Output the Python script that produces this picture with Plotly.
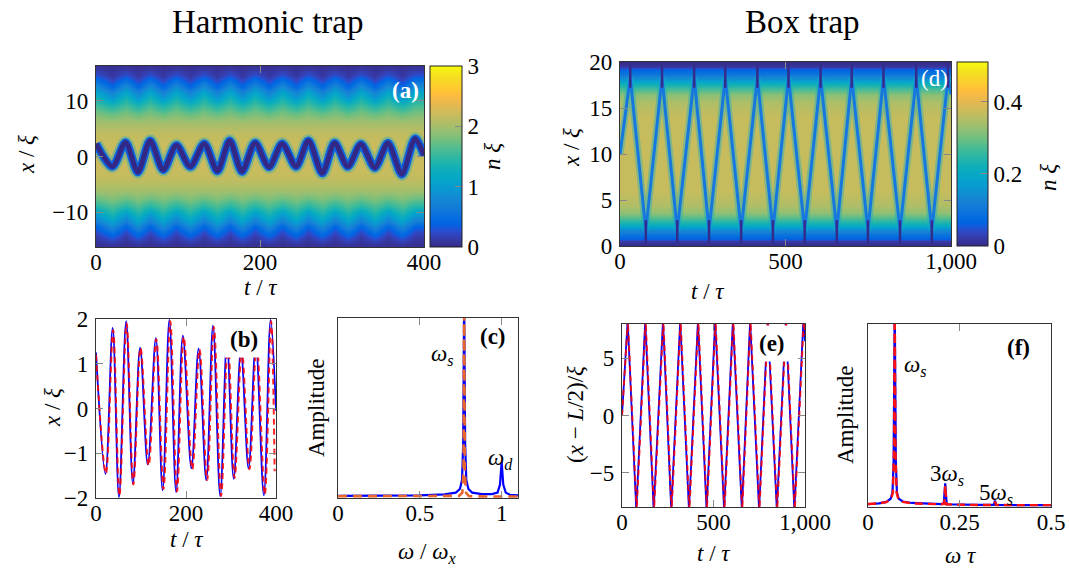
import plotly.graph_objects as go

W, H = 1069, 568
FONT = "Liberation Serif"

# ---------------- data ----------------
# (a) harmonic trap: density profile across x (read from colours); the cloud edge
# bulges outward on the side where the soliton sits at its turning point
heat_a_x = [-16.2, -15.5, -14.5, -13.5, -12.5, -11.5, -10.5, -9, -7.5, -6, -4, -2, 0,
            2, 4, 6, 7.5, 9, 10.5, 11.5, 12.5, 13.5, 14.5, 15.5, 16.2]
heat_a_n_top = [0.04, 0.06, 0.1, 0.22, 0.42, 0.7, 0.95, 1.4, 1.75, 2.0, 2.15, 2.2, 2.2,
                2.2, 2.15, 2.0, 1.85, 1.6, 1.35, 1.1, 0.85, 0.55, 0.3, 0.12, 0.06]
heat_a_n_bot = [0.06, 0.12, 0.3, 0.55, 0.85, 1.1, 1.35, 1.6, 1.85, 2.0, 2.15, 2.2, 2.2,
                2.2, 2.15, 2.0, 1.75, 1.4, 0.95, 0.7, 0.42, 0.22, 0.1, 0.06, 0.04]
# (a) dark-soliton trajectory seen in the density map
sol_a_t = [0, 20, 36, 51, 66, 82, 98, 115, 132, 148, 163, 178, 194, 211, 227, 244,
           259, 276, 291, 307, 323, 340, 356, 373, 389, 400]
sol_a_x = [2.3, -1.8, 2.5, -2.8, 2.8, -2.4, 2.0, -1.8, 2.3, -2.6, 2.8, -2.7, 2.4,
           -1.9, 2.3, -1.8, 2.8, -3.0, 2.4, -1.8, 2.2, -2.0, 2.4, -3.2, 3.2, 0.2]

# (d) box trap: background density profile across x
heat_d_x = [0, 0.5, 0.8, 1.3, 1.8, 2.3, 2.9, 3.6, 4.5, 6, 10, 14, 15.5, 16.4, 17.1,
            17.7, 18.2, 18.7, 19.2, 19.5, 20]
heat_d_n = [0.0, 0.02, 0.06, 0.1, 0.15, 0.21, 0.27, 0.32, 0.35, 0.37, 0.37, 0.37,
            0.35, 0.32, 0.27, 0.21, 0.15, 0.1, 0.06, 0.02, 0.0]
heat_d_t = [0, 1000]
L_box = 20

# (b) soliton position x/xi vs t/tau (turning points)
b_t_blue = [0, 21, 37, 51, 67, 82, 98, 115, 133, 148, 163, 178, 193, 212, 228, 245,
            260, 276, 291, 306, 322, 339, 355, 373, 388, 400]
b_x_blue = [1.25, -1.46, 1.8, -1.98, 1.95, -1.68, 1.36, -1.25, 1.57, -1.83, 1.98, -1.87,
            1.63, -1.34, 1.34, -1.6, 1.85, -1.96, 1.5, -1.57, 1.3, -1.34, 1.45, -1.94, 1.98, -0.05]
b_t_red = [0, 22, 38, 52, 68, 83, 99, 117, 134, 150, 165, 180, 195, 214, 230, 247,
           262, 278, 293, 308, 324, 341, 357, 375, 389, 397]
b_x_red = [1.2, -1.45, 1.75, -1.95, 1.9, -1.7, 1.35, -1.27, 1.55, -1.8, 1.95, -1.85,
           1.6, -1.36, 1.32, -1.6, 1.82, -1.95, 1.5, -1.55, 1.3, -1.36, 1.45, -1.92, 1.95, -1.4]

# (c) spectrum, harmonic trap
c_w_blue = [0, 0.3, 0.5, 0.65, 0.72, 0.745, 0.758, 0.765, 0.771, 0.777, 0.784, 0.797,
            0.82, 0.88, 0.94, 0.975, 0.99, 1.0, 1.01, 1.025, 1.05, 1.1]
c_a_blue = [0.012, 0.013, 0.015, 0.02, 0.03, 0.05, 0.1, 0.3, 1.1, 0.3, 0.1, 0.05,
            0.03, 0.022, 0.022, 0.03, 0.075, 0.2, 0.075, 0.03, 0.018, 0.015]
c_w_red = [0, 0.3, 0.6, 0.74, 0.76, 0.767, 0.771, 0.775, 0.782, 0.8, 0.9, 1.0, 1.1]
c_a_red = [0.01, 0.01, 0.01, 0.012, 0.03, 0.15, 1.1, 0.15, 0.03, 0.01, 0.008, 0.008, 0.008]

# (e) soliton position (x - L/2)/xi vs t/tau in the box (turning points)
e_t_blue = [0, 31, 78, 127, 173, 224, 269, 318, 366, 415, 462, 509, 558, 606, 655,
            700, 749, 796, 846, 895, 942, 991, 1000]
e_x_blue = [0, 8.3, -8.3, 8.3, -8.3, 8.3, -8.3, 8.3, -8.3, 8.3, -8.3, 8.3, -8.3,
            8.3, -8.3, 8.3, -8.3, 8.3, -8.3, 8.3, -8.3, 8.3, 6.5]
e_t_red = [0, 32, 80, 129, 175, 226, 271, 320, 368, 417, 464, 511, 560, 608, 657,
           702, 751, 798, 848, 897, 944, 993, 1000]
e_x_red = [0, 8.3, -8.3, 8.3, -8.3, 8.3, -8.3, 8.3, -8.3, 8.3, -8.3, 8.3, -8.3,
           8.3, -8.3, 8.3, -8.3, 8.3, -8.3, 8.3, -8.3, 8.3, 7.0]

# (f) spectrum, box trap
f_w_blue = [0, 0.03, 0.05, 0.062, 0.067, 0.070, 0.073, 0.076, 0.079, 0.084, 0.095,
            0.12, 0.2, 0.207, 0.211, 0.215, 0.3, 0.344, 0.347, 0.35, 0.42, 0.5]
f_a_blue = [0.015, 0.02, 0.028, 0.045, 0.08, 0.25, 1.1, 0.25, 0.08, 0.045, 0.03,
            0.022, 0.016, 0.02, 0.13, 0.015, 0.012, 0.012, 0.035, 0.012, 0.01, 0.01]
f_w_red = [0, 0.03, 0.05, 0.063, 0.068, 0.071, 0.073, 0.075, 0.078, 0.083, 0.095,
           0.12, 0.2, 0.208, 0.211, 0.214, 0.3, 0.344, 0.347, 0.35, 0.42, 0.5]
f_a_red = [0.016, 0.02, 0.027, 0.042, 0.08, 0.3, 1.1, 0.3, 0.08, 0.042, 0.028,
           0.02, 0.015, 0.018, 0.12, 0.014, 0.011, 0.011, 0.03, 0.011, 0.01, 0.01]

# tick labels
a_xticks, a_xtext = [0, 200, 400], ["0", "200", "400"]
a_yticks, a_ytext = [-10, 0, 10], ["−10", "0", "10"]
a_cticks, a_ctext = [0, 1, 2, 3], ["0", "1", "2", "3"]
d_xticks, d_xtext = [0, 500, 1000], ["0", "500", "1,000"]
d_yticks, d_ytext = [0, 5, 10, 15, 20], ["0", "5", "10", "15", "20"]
d_cticks, d_ctext = [0, 0.2, 0.4], ["0", "0.2", "0.4"]
b_xticks, b_xtext = [0, 200, 400], ["0", "200", "400"]
b_yticks, b_ytext = [-2, -1, 0, 1, 2], ["−2", "−1", "0", "1", "2"]
c_xticks, c_xtext = [0, 0.5, 1], ["0", "0.5", "1"]
e_xticks, e_xtext = [0, 500, 1000], ["0", "500", "1,000"]
e_yticks, e_ytext = [-5, 0, 5], ["−5", "0", "5"]
f_xticks, f_xtext = [0, 0.25, 0.5], ["0", "0.25", "0.5"]

# ---------------- style ----------------
PARULA = [
    (0.2081, 0.1663, 0.5292), (0.2116, 0.1898, 0.5777), (0.2123, 0.2138, 0.6270),
    (0.2081, 0.2386, 0.6771), (0.1959, 0.2645, 0.7279), (0.1707, 0.2919, 0.7792),
    (0.1253, 0.3242, 0.8303), (0.0591, 0.3598, 0.8683), (0.0117, 0.3875, 0.8820),
    (0.0060, 0.4086, 0.8828), (0.0165, 0.4266, 0.8786), (0.0329, 0.4430, 0.8720),
    (0.0498, 0.4586, 0.8641), (0.0629, 0.4737, 0.8554), (0.0723, 0.4887, 0.8467),
    (0.0779, 0.5040, 0.8384), (0.0793, 0.5200, 0.8312), (0.0749, 0.5375, 0.8263),
    (0.0641, 0.5570, 0.8240), (0.0488, 0.5772, 0.8228), (0.0343, 0.5966, 0.8199),
    (0.0265, 0.6137, 0.8135), (0.0239, 0.6287, 0.8038), (0.0231, 0.6418, 0.7913),
    (0.0228, 0.6535, 0.7768), (0.0267, 0.6642, 0.7607), (0.0384, 0.6743, 0.7436),
    (0.0590, 0.6838, 0.7254), (0.0843, 0.6928, 0.7062), (0.1133, 0.7015, 0.6859),
    (0.1453, 0.7098, 0.6646), (0.1801, 0.7177, 0.6424), (0.2178, 0.7250, 0.6193),
    (0.2586, 0.7317, 0.5954), (0.3022, 0.7376, 0.5712), (0.3482, 0.7424, 0.5473),
    (0.3953, 0.7459, 0.5244), (0.4420, 0.7481, 0.5033), (0.4871, 0.7491, 0.4840),
    (0.5300, 0.7491, 0.4661), (0.5709, 0.7485, 0.4494), (0.6099, 0.7473, 0.4337),
    (0.6473, 0.7456, 0.4188), (0.6834, 0.7435, 0.4044), (0.7184, 0.7411, 0.3905),
    (0.7525, 0.7384, 0.3768), (0.7858, 0.7356, 0.3633), (0.8185, 0.7327, 0.3498),
    (0.8507, 0.7299, 0.3360), (0.8824, 0.7274, 0.3217), (0.9139, 0.7258, 0.3063),
    (0.9450, 0.7261, 0.2886), (0.9739, 0.7314, 0.2666), (0.9938, 0.7455, 0.2403),
    (0.9990, 0.7653, 0.2164), (0.9955, 0.7861, 0.1967), (0.9880, 0.8066, 0.1794),
    (0.9789, 0.8271, 0.1633), (0.9697, 0.8481, 0.1475), (0.9626, 0.8705, 0.1309),
    (0.9589, 0.8949, 0.1132), (0.9598, 0.9218, 0.0948), (0.9661, 0.9514, 0.0755),
    (0.9763, 0.9831, 0.0538)]
colorscale = [[i / (len(PARULA) - 1),
               "rgb(%d,%d,%d)" % tuple(int(round(255 * c)) for c in rgb)]
              for i, rgb in enumerate(PARULA)]


def px_x(p):
    return p / W


def px_y(p):
    return 1 - p / H


fig = go.Figure()

# ---- (a) heatmap: one column per soliton turning point ----
z_a = [[(top if xs > 0 else bot) for xs in sol_a_x]
       for top, bot in zip(heat_a_n_top, heat_a_n_bot)]
fig.add_trace(go.Heatmap(
    x=sol_a_t, y=heat_a_x, z=z_a,
    zmin=0, zmax=3, zsmooth="best", colorscale=colorscale,
    xaxis="x", yaxis="y", hoverinfo="skip",
    colorbar=dict(x=px_x(430), xanchor="left", y=px_y(66), yanchor="top",
                  len=(247 - 66) / H, lenmode="fraction", thickness=32,
                  thicknessmode="pixels", xpad=0, ypad=0, outlinewidth=1,
                  outlinecolor="#222", ticks="inside", ticklen=7, tickcolor="#888",
                  tickvals=a_cticks, ticktext=a_ctext,
                  tickfont=dict(family=FONT, size=23, color="black"))))
for wdt, col in [(13, "rgba(20,165,200,0.35)"), (8.5, "rgb(14,100,222)"), (5, "rgb(52,40,135)")]:
    fig.add_trace(go.Scatter(x=sol_a_t, y=sol_a_x, mode="lines",
                             line=dict(color=col, width=wdt, shape="spline", smoothing=0.8),
                             xaxis="x", yaxis="y", hoverinfo="skip", showlegend=False))

# ---- (d) heatmap ----
fig.add_trace(go.Heatmap(
    x=heat_d_t, y=heat_d_x, z=[[v, v] for v in heat_d_n],
    zmin=0, zmax=0.51, zsmooth="best", colorscale=colorscale,
    xaxis="x2", yaxis="y2", hoverinfo="skip",
    colorbar=dict(x=px_x(957), xanchor="left", y=px_y(62), yanchor="top",
                  len=(246 - 62) / H, lenmode="fraction", thickness=31,
                  thicknessmode="pixels", xpad=0, ypad=0, outlinewidth=1,
                  outlinecolor="#222", ticks="inside", ticklen=7, tickcolor="#888",
                  tickvals=d_cticks, ticktext=d_ctext,
                  tickfont=dict(family=FONT, size=23, color="black"))))
d_y = [L_box / 2 + v for v in e_x_blue]
for wdt, col in [(7, "rgba(20,170,200,0.4)"), (3, "rgb(22,120,222)")]:
    fig.add_trace(go.Scatter(x=e_t_blue, y=d_y, mode="lines",
                             line=dict(color=col, width=wdt),
                             xaxis="x2", yaxis="y2", hoverinfo="skip", showlegend=False))
# soliton dip continuing into the wall healing layers at each reflection
wall_t, wall_y = [], []
for t, v in zip(e_t_blue[1:-1], e_x_blue[1:-1]):
    if v < 0:
        wall_t += [t, t, None]
        wall_y += [0.3, 2.8, None]
    else:
        wall_t += [t, t, None]
        wall_y += [17.2, 19.7, None]
fig.add_trace(go.Scatter(x=wall_t, y=wall_y, mode="lines",
                         line=dict(color="rgb(52,44,140)", width=2.5),
                         xaxis="x2", yaxis="y2", hoverinfo="skip", showlegend=False))

# ---- (b) ----
fig.add_trace(go.Scatter(x=b_t_blue, y=b_x_blue, mode="lines",
                         line=dict(color="#0000ff", width=1.8, shape="spline"),
                         xaxis="x3", yaxis="y3", showlegend=False))
fig.add_trace(go.Scatter(x=b_t_red, y=b_x_red, mode="lines",
                         line=dict(color="rgba(255,0,0,0.85)", width=2, dash="6px,4px",
                                   shape="spline"),
                         xaxis="x3", yaxis="y3", showlegend=False))

# ---- (c) ----
fig.add_trace(go.Scatter(x=c_w_blue, y=c_a_blue, mode="lines",
                         line=dict(color="#0000ff", width=2.2),
                         xaxis="x4", yaxis="y4", showlegend=False))
fig.add_trace(go.Scatter(x=c_w_red, y=c_a_red, mode="lines",
                         line=dict(color="#e8662e", width=2.6, dash="9px,6px"),
                         xaxis="x4", yaxis="y4", showlegend=False))

# ---- (e) ----
fig.add_trace(go.Scatter(x=e_t_blue, y=e_x_blue, mode="lines",
                         line=dict(color="#0000ff", width=1.8),
                         xaxis="x5", yaxis="y5", showlegend=False))
fig.add_trace(go.Scatter(x=e_t_red, y=e_x_red, mode="lines",
                         line=dict(color="rgba(255,0,0,0.85)", width=2, dash="6px,4px"),
                         xaxis="x5", yaxis="y5", showlegend=False))

# ---- (f) ----
fig.add_trace(go.Scatter(x=f_w_blue, y=f_a_blue, mode="lines",
                         line=dict(color="#0000ff", width=2.2),
                         xaxis="x6", yaxis="y6", showlegend=False))
fig.add_trace(go.Scatter(x=f_w_red, y=f_a_red, mode="lines",
                         line=dict(color="#ff1010", width=2.4, dash="8px,5px"),
                         xaxis="x6", yaxis="y6", showlegend=False))


def axis(dom, rng, anchor, tickvals, ticktext, standoff, frame="#333"):
    return dict(domain=dom, range=rng, anchor=anchor, showgrid=False, zeroline=False,
                showline=True, linecolor=frame, linewidth=1.2, mirror="allticks",
                ticks="inside" if tickvals else "", ticklen=7, tickcolor="#888",
                tickwidth=1.2,
                tickvals=tickvals, ticktext=ticktext, showticklabels=bool(tickvals),
                ticklabelstandoff=standoff,
                tickfont=dict(family=FONT, size=23, color="black"), fixedrange=True)


def xd(a, b):
    return [a / W, b / W]


def yd(top, bot):
    return [1 - bot / H, 1 - top / H]


XS, YS = -6, 2
layout = dict(
    width=W, height=H, paper_bgcolor="white", plot_bgcolor="white",
    margin=dict(l=0, r=0, t=0, b=0, autoexpand=False),
    showlegend=False,
    xaxis=axis(xd(96, 424), [0, 400], "y", a_xticks, a_xtext, XS),
    yaxis=axis(yd(66, 247), [-16.2, 16.2], "x", a_yticks, a_ytext, YS),
    xaxis2=axis(xd(620, 951), [0, 1000], "y2", d_xticks, d_xtext, XS),
    yaxis2=axis(yd(62, 246), [0, 20], "x2", d_yticks, d_ytext, YS),
    xaxis3=axis(xd(96, 276), [0, 400], "y3", b_xticks, b_xtext, XS),
    yaxis3=axis(yd(319, 498), [-2, 2], "x3", b_yticks, b_ytext, YS),
    xaxis4=axis(xd(338, 518), [0, 1.1], "y4", c_xticks, c_xtext, XS),
    yaxis4=axis(yd(318, 498), [0, 1], "x4", [], [], YS),
    xaxis5=axis(xd(622, 805), [0, 1000], "y5", e_xticks, e_xtext, XS),
    yaxis5=axis(yd(324, 507), [-8, 8], "x5", e_yticks, e_ytext, YS),
    xaxis6=axis(xd(868, 1051), [0, 0.5], "y6", f_xticks, f_xtext, XS),
    yaxis6=axis(yd(324, 507), [0, 1], "x6", [], [], YS),
)
fig.update_layout(**layout)


def ann(text, px, py, size=23, color="black", angle=0, bg=None, pad=0):
    d = dict(text=text, x=px / W, y=1 - py / H, xref="paper", yref="paper",
             xanchor="center", yanchor="middle", showarrow=False, textangle=angle,
             font=dict(family=FONT, size=size, color=color))
    if bg:
        d.update(bgcolor=bg, borderpad=pad)
    return d


I = lambda s: "<i>%s</i>" % s
annotations = [
    ann("Harmonic trap", 268, 22, size=33),
    ann("Box trap", 802, 22, size=33),
    # axis titles
    ann(I("x") + " / " + I("ξ"), 26, 155, angle=-90),
    ann(I("t") + " / " + I("τ"), 260, 287),
    ann(I("n") + " " + I("ξ"), 492, 157, angle=-90),
    ann(I("x") + " / " + I("ξ"), 571, 148, angle=-90),
    ann(I("t") + " / " + I("τ"), 707, 291),
    ann(I("n") + " " + I("ξ"), 1048, 178, angle=-90),
    ann(I("x") + " / " + I("ξ"), 52, 408, angle=-90),
    ann(I("t") + " / " + I("τ"), 186, 539),
    ann("Amplitude", 316, 408, angle=-90),
    ann(I("ω") + " / " + I("ω") + "<sub>" + I("x") + "</sub>", 427, 553),
    ann("(" + I("x") + " − " + I("L") + "/2)/" + I("ξ"), 575, 415, angle=-90),
    ann(I("t") + " / " + I("τ"), 713, 553),
    ann("Amplitude", 845, 415, angle=-90),
    ann(I("ω") + " " + I("τ"), 960, 555),
    # panel labels
    ann("<b>(a)</b>", 405, 91, color="white"),
    ann("(d)", 934, 79, color="white"),
    ann("<b>(b)</b>", 244, 339, bg="white", pad=5),
    ann("<b>(c)</b>", 493, 336),
    ann("<b>(e)</b>", 772, 343, bg="white", pad=5),
    ann("<b>(f)</b>", 1018, 347),
    # peak labels
    ann(I("ω") + "<sub>" + I("s") + "</sub>", 442, 355),
    ann(I("ω") + "<sub>" + I("d") + "</sub>", 500, 459),
    ann(I("ω") + "<sub>" + I("s") + "</sub>", 915, 366),
    ann("3" + I("ω") + "<sub>" + I("s") + "</sub>", 947, 475),
    ann("5" + I("ω") + "<sub>" + I("s") + "</sub>", 996, 494),
]
fig.update_layout(annotations=annotations)

fig.write_html("out.html", config={"displayModeBar": False},
               post_script="document.body.style.margin='0';"
                           "document.body.style.overflow='hidden';")
